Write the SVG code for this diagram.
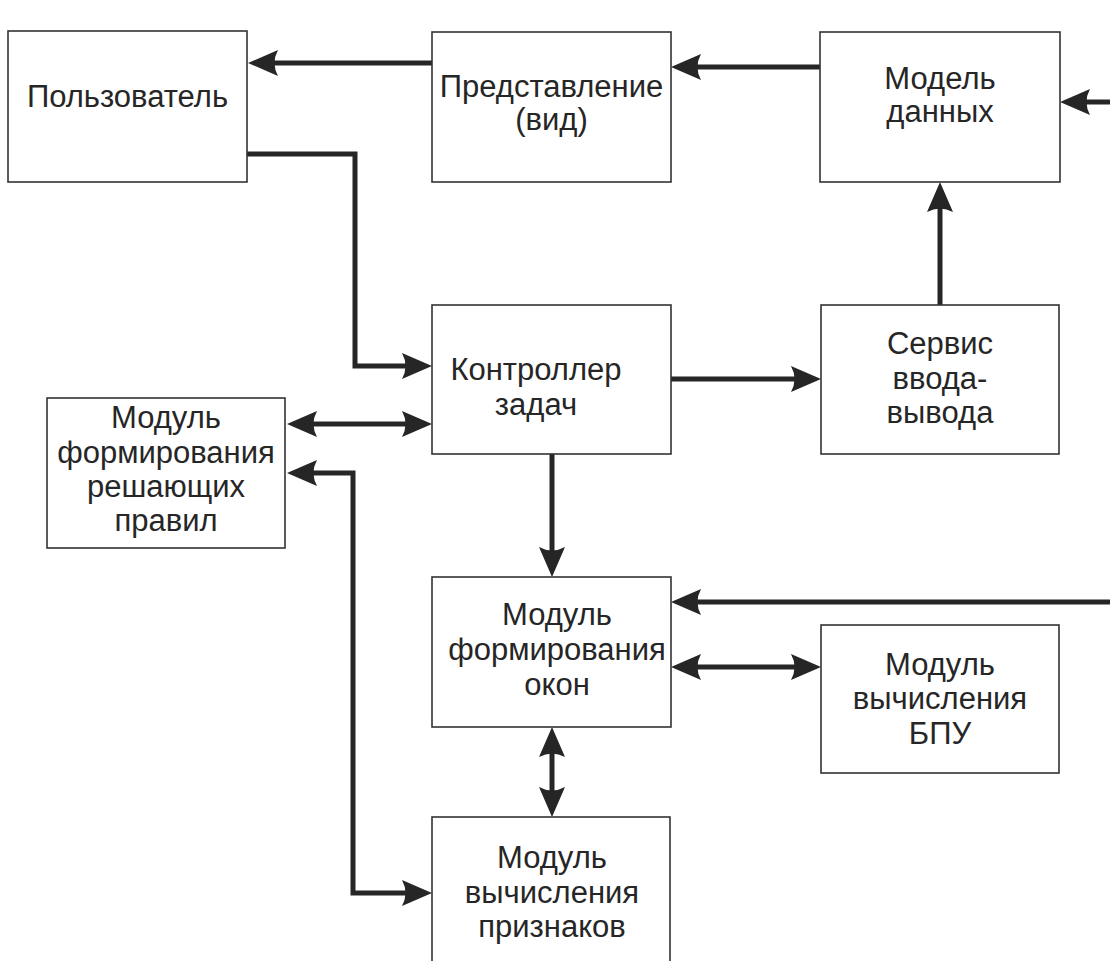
<svg xmlns="http://www.w3.org/2000/svg" width="1110" height="961" viewBox="0 0 1110 961">
<style>
.box{fill:#fff;stroke:#333;stroke-width:1.6}
.t{font-family:"Liberation Sans",Arial,sans-serif;font-size:31px;fill:#262626;text-anchor:middle}
.c{fill:none;stroke:#262626;stroke-width:5}
.ah{fill:#262626}
</style>
<defs>
<marker id="arr" markerUnits="userSpaceOnUse" markerWidth="60" markerHeight="40" refX="0" refY="0" orient="auto-start-reverse" overflow="visible" viewBox="-20 -20 60 40">
<path class="ah" d="M20,0 L-10,-13 Q-3,0 -10,13 Z"/>
</marker>
</defs>
<rect width="1110" height="961" fill="#fff"/>
<g id="connectors">
<path class="c" d="M820,67 H691" marker-end="url(#arr)"/>
<path class="c" d="M432,63 H268" marker-end="url(#arr)"/>
<path class="c" d="M1110,102 H1080" marker-end="url(#arr)"/>
<path class="c" d="M247,154 H355 V366 H412" marker-end="url(#arr)"/>
<path class="c" d="M307,424 H412" marker-start="url(#arr)" marker-end="url(#arr)"/>
<path class="c" d="M671,379 H801" marker-end="url(#arr)"/>
<path class="c" d="M940,305 V202" marker-end="url(#arr)"/>
<path class="c" d="M307,473 H353 V893 H412" marker-start="url(#arr)" marker-end="url(#arr)"/>
<path class="c" d="M552,454 V557" marker-end="url(#arr)"/>
<path class="c" d="M1110,602 H691" marker-end="url(#arr)"/>
<path class="c" d="M691,667 H801" marker-start="url(#arr)" marker-end="url(#arr)"/>
<path class="c" d="M552,747 V797" marker-start="url(#arr)" marker-end="url(#arr)"/>
</g>
<g id="user">
<rect class="box" x="8" y="31" width="239" height="151"/>
<text class="t" x="127.5" y="107">Пользователь</text>
</g>
<g id="view">
<rect class="box" x="432" y="32" width="239" height="150"/>
<text class="t" x="551.5" y="97">Представление</text>
<text class="t" x="551.5" y="130">(вид)</text>
</g>
<g id="model">
<rect class="box" x="820" y="32" width="240" height="150"/>
<text class="t" x="940" y="89">Модель</text>
<text class="t" x="940" y="122">данных</text>
</g>
<g id="controller">
<rect class="box" x="432" y="305" width="239" height="149"/>
<text class="t" x="536" y="380">Контроллер</text>
<text class="t" x="536" y="415">задач</text>
</g>
<g id="io">
<rect class="box" x="821" y="305" width="238" height="149"/>
<text class="t" x="940" y="354">Сервис</text>
<text class="t" x="940" y="389">ввода-</text>
<text class="t" x="940" y="423">вывода</text>
</g>
<g id="rules">
<rect class="box" x="47" y="398" width="238" height="150"/>
<text class="t" x="166" y="428">Модуль</text>
<text class="t" x="166" y="463">формирования</text>
<text class="t" x="166" y="497">решающих</text>
<text class="t" x="166" y="531">правил</text>
</g>
<g id="windows">
<rect class="box" x="432" y="577" width="239" height="150"/>
<text class="t" x="557" y="625">Модуль</text>
<text class="t" x="557" y="660">формирования</text>
<text class="t" x="557" y="695">окон</text>
</g>
<g id="bpu">
<rect class="box" x="821" y="625" width="238" height="148"/>
<text class="t" x="940" y="675">Модуль</text>
<text class="t" x="940" y="709">вычисления</text>
<text class="t" x="940" y="744">БПУ</text>
</g>
<g id="features">
<rect class="box" x="432" y="817" width="238" height="160"/>
<text class="t" x="552" y="868">Модуль</text>
<text class="t" x="552" y="903">вычисления</text>
<text class="t" x="552" y="937">признаков</text>
</g>
</svg>
